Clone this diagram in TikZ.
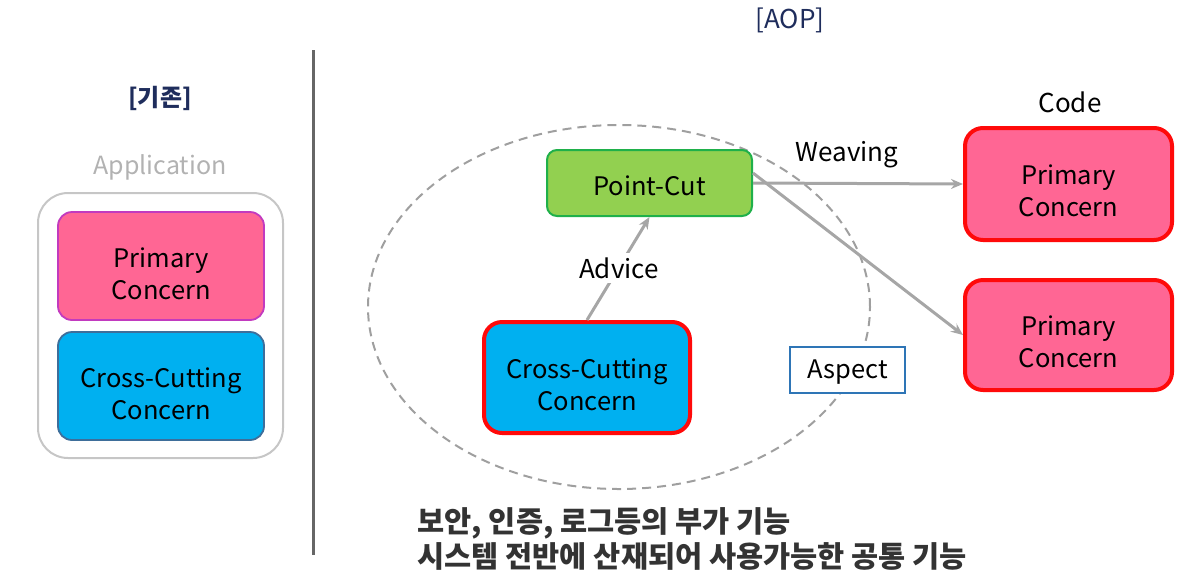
\documentclass[tikz,border=0pt]{standalone}
\usepackage{fontspec}
\setmainfont{Noto Sans CJK KR}
\usetikzlibrary{arrows.meta}
\definecolor{navy}{HTML}{1F2D5C}
\definecolor{pinkfill}{HTML}{FF6694}
\definecolor{bluefill}{HTML}{00B0F0}
\definecolor{greenfill}{HTML}{92D050}
\definecolor{greenline}{HTML}{1FB04A}
\definecolor{redline}{HTML}{FF0A0A}
\definecolor{magline}{HTML}{C23ABF}
\definecolor{blueline}{HTML}{3E6E9A}
\definecolor{aspectline}{HTML}{2E75B6}
\definecolor{arrowgray}{HTML}{A6A6A6}
\definecolor{textdark}{HTML}{333333}
\newcommand{\lowtext}[2]{\raisebox{-#1}[\height][\depth]{\begin{tabular}{@{}c@{}}#2\end{tabular}}}
\tikzset{
  box/.style={rounded corners=14pt, align=center, font=\fontsize{25.5}{32}\selectfont, inner sep=0pt},
  conn/.style={draw=arrowgray, line width=3pt, -{Stealth[length=12pt,width=10pt]}},
  lbl/.style={font=\fontsize{26}{30}\selectfont, inner sep=2pt},
}
\begin{document}
\begin{tikzpicture}[x=1pt,y=-1pt]
\useasboundingbox (0,0) rectangle (1180,579);
% separator
\draw[draw=gray!80!black, line width=3pt] (313,50) -- (313,555);
% left side
\node[font=\fontsize{24}{28}\selectfont\bfseries, text=navy] (kijon) at (160,98) {[기존]};
\node[font=\fontsize{25}{30}\selectfont, text=gray!60] (app) at (160,167) {Application};
\draw[draw=gray!45, line width=2pt, rounded corners=30pt] (38,193) rectangle (283,458);
\node[box, fill=pinkfill, draw=magline, line width=1.8pt, minimum width=206pt, minimum height=108pt] (lprim) at (161,266) {\lowtext{11pt}{Primary\\Concern}};
\node[box, fill=bluefill, draw=blueline, line width=1.8pt, minimum width=206pt, minimum height=108pt] (lcross) at (161,386) {\lowtext{11pt}{Cross-Cutting\\Concern}};
% right side
\node[font=\fontsize{26}{30}\selectfont, text=navy] (aop) at (790,20) {[AOP]};
\draw[draw=gray!75, line width=2pt, dash pattern=on 9pt off 6pt] (619,307) ellipse [x radius=251pt, y radius=182pt];
\node[box, rounded corners=10pt, fill=greenfill, draw=greenline, line width=2pt, minimum width=205pt, minimum height=66pt] (pc) at (649.5,183) {\lowtext{6pt}{Point-Cut}};
\node[box, rounded corners=18pt, fill=bluefill, draw=redline, line width=4pt, minimum width=206pt, minimum height=111pt] (rcross) at (587,377.5) {\lowtext{11pt}{Cross-Cutting\\Concern}};
\node[box, rounded corners=0pt, fill=white, draw=aspectline, line width=2.8pt, minimum width=115pt, minimum height=46pt] (aspect) at (847.5,370) {\lowtext{2pt}{Aspect}};
\node[box, rounded corners=18pt, fill=pinkfill, draw=redline, line width=4pt, minimum width=207pt, minimum height=112pt] (p1) at (1068.5,184) {\lowtext{10pt}{Primary\\Concern}};
\node[box, rounded corners=18pt, fill=pinkfill, draw=redline, line width=4pt, minimum width=207pt, minimum height=110pt] (p2) at (1068.5,335) {\lowtext{10pt}{Primary\\Concern}};
\node[lbl] (code) at (1070,102) {Code};
\node[lbl] (weaving) at (847,155) {Weaving};
% connectors
\draw[conn] (pc.east) -- (p1.west);
\draw[conn] ([yshift=10pt]pc.east) -- (p2.west);
\draw[conn] (rcross.north) -- (pc.south);
\node[lbl, fill=white, inner sep=4pt] (advice) at (619,268) {Advice};
% bottom text
\node[anchor=west, align=left, font=\fontsize{29.5}{35}\selectfont\bfseries, text=textdark] (note) at (414,539) {보안, 인증, 로그등의 부가 기능\\시스템 전반에 산재되어 사용가능한 공통 기능};
\end{tikzpicture}
\end{document}
